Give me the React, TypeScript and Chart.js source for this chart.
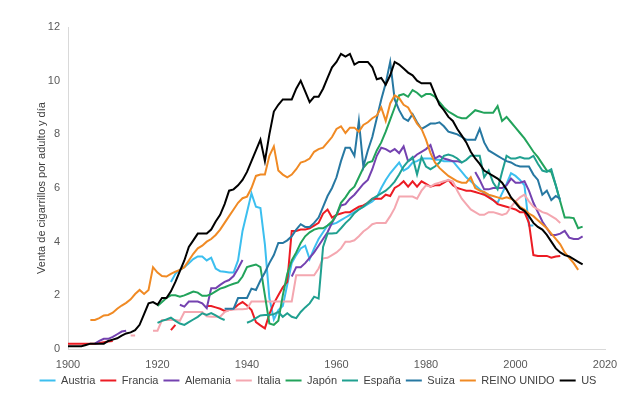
import React, { useEffect, useRef } from "react";
import { Chart, registerables } from "chart.js";

Chart.register(...registerables);

// ---- Data (cigarettes per adult per day) ----
const seriesLabels = ["Austria", "Francia", "Alemania", "Italia", "Japón", "España", "Suiza", "REINO UNIDO", "US"];
const seriesColors = ["#3cbfef", "#ec1c24", "#7442b0", "#f4a7b0", "#22a35b", "#20a090", "#2778a2", "#f08a24", "#000000"];

const xTicksMin = 1900;
const xTicksMax = 2020;
const xTickStep = 20;
const yTicksMin = 0;
const yTicksMax = 12;
const yTickStep = 2;

const austriaStart = 1923;
const austria = [
  2.5, 2.8, 2.95, 3.05, 3.2, 3.35, 3.45, 3.45, 3.3, 3.4, // 1923-1932
  3.0, 2.9, 2.88, 2.85, 2.85, 3.3, 4.4, 5.1, 5.8, 5.3, // 1933-1942
  5.25, 3.9, 1.9, 1.1, 1.45, 1.6, 2.4, 3.2, 3.5, 3.75, // 1943-1952
  3.85, 3.35, 3.75, 4.1, 4.35, 4.6, 4.65, 4.7, 4.8, 4.9, // 1953-1962
  5.0, 5.1, 5.2, 5.3, 5.4, 5.5, 5.65, 6.0, 6.3, 6.55, // 1963-1972
  6.75, 6.95, 6.65, 6.75, 6.95, 7.0, 7.1, 7.1, 7.1, 7.05, // 1973-1982
  7.05, 7.0, 7.0, 7.0, 6.8, 6.6, 6.4, 6.25, 6.1, 5.95, // 1983-1992
  5.8, 5.7, 5.55, 5.45, 5.8, 6.15, 6.55, 6.45, 6.3, 6.1, // 1993-2002
  4.6, 4.6, // 2003-2004
];

const franciaStart = 1900;
const francia = [
  0.2, 0.2, 0.2, 0.2, 0.2, 0.2, 0.2, 0.22, 0.25, 0.28, 0.3, // 1900-1910
  null, null, null, null, null, null, null, null, null, null, null, null, // 1911-1922
  0.7, 0.9, // 1923-1924
  null, null, null, null, null, null, // 1925-1930
  1.6, 1.6, 1.55, 1.5, 1.42, 1.45, 1.5, 1.65, 1.75, 1.62, // 1931-1940
  1.45, 1.0, 0.88, 0.77, 1.3, 1.7, 2.0, 2.3, 2.5, 4.4, // 1941-1950
  4.4, 4.45, 4.45, 4.5, 4.6, 4.7, 5.05, 5.2, 4.9, 5.0, // 1951-1960
  5.05, 5.1, 5.1, 5.2, 5.3, 5.35, 5.45, 5.6, 5.6, 5.6, // 1961-1970
  5.75, 5.7, 6.0, 6.1, 6.25, 6.05, 6.25, 6.05, 6.25, 6.15, // 1971-1980
  6.05, 6.1, 6.1, 6.2, 6.3, 6.1, 6.0, 5.95, 5.9, 5.9, // 1981-1990
  5.85, 5.8, 5.75, 5.65, 5.55, 5.4, 5.35, 5.3, 5.25, 5.2, // 1991-2000
  5.1, 5.1, 4.7, 3.5, 3.47, 3.47, 3.47, 3.4, 3.45, 3.47, // 2001-2010
];

const alemaniaStart = 1906;
const alemania = [
  0.2, 0.3, 0.38, 0.38, 0.45, 0.55, 0.65, 0.68, // 1906-1913
  null, null, null, null, null, null, null, null, null, null, null, // 1914-1924
  1.65, 1.58, 1.77, 1.77, 1.77, 1.7, 1.52, 2.26, 2.26, 2.39, // 1925-1934
  2.5, 2.57, 2.72, 3.0, 3.32, // 1935-1939
  null, null, null, null, null, null, null, null, null, null, // 1940-1949
  2.7, 3.05, 3.05, 3.2, 3.4, 3.6, 3.85, 4.1, 4.35, 4.7, // 1950-1959
  5.0, 5.35, 5.4, 5.6, 5.75, 5.95, 6.15, 6.3, 6.7, 7.2, // 1960-1969
  7.5, 7.45, 7.35, 7.45, 7.3, 7.55, 7.0, 7.1, 7.25, 7.35, // 1970-1979
  7.45, 7.6, 7.1, 7.2, 7.1, 7.05, 7.0, 7.0, 6.95, null, // 1980-1989
  null, 6.6, 6.3, 5.95, 5.95, 6.0, 6.0, 6.0, 6.1, 6.35, // 1990-1999
  6.2, 6.2, 6.25, 5.9, 5.45, 5.1, 4.75, 4.5, 4.25, 4.25, // 2000-2009
  4.3, 4.4, 4.15, 4.1, 4.1, 4.2, // 2010-2015
];

const italiaStart = 1914;
const italia = [
  0.5, 0.5, null, null, null, 0.68, 0.68, 1.08, 1.08, 1.08, // 1914-1923
  1.08, 1.05, 1.38, 1.38, 1.38, 1.38, 1.38, 1.22, 1.2, 1.2, // 1924-1933
  1.2, 1.38, 1.45, 1.47, 1.48, 1.48, 1.5, 1.77, 1.77, 1.77, // 1934-1943
  1.77, 1.77, 1.77, 1.77, 1.77, 1.77, 1.77, 2.75, 2.75, 2.75, // 1944-1953
  2.75, 2.75, 3.0, 3.38, 3.4, 3.5, 3.6, 3.75, 4.0, 4.0, // 1954-1963
  4.05, 4.2, 4.38, 4.5, 4.65, 4.7, 4.7, 4.7, 4.95, 5.25, // 1964-1973
  5.68, 5.68, 5.68, 5.68, 5.6, 5.9, 6.1, 6.05, 6.15, 6.2, // 1974-1983
  6.25, 6.3, 6.25, 5.9, 5.6, 5.4, 5.2, 5.1, 5.0, 5.0, // 1984-1993
  5.1, 5.1, 5.05, 5.0, 5.05, 5.3, 5.5, 5.65, 5.75, 5.5, // 1994-2003
  5.3, 5.2, 5.1, 5.05, 4.95, 4.85, 4.7, // 2004-2010
];

const japonStart = 1920;
const japon = [
  1.6, 1.75, 1.9, 2.0, 2.0, 1.95, 2.0, 2.07, 2.14, 2.1, // 1920-1929
  1.98, 1.98, 2.05, 2.15, 2.25, 2.3, 2.37, 2.43, 2.48, 2.7, // 1930-1939
  3.05, 3.1, 3.15, 3.05, 2.0, 0.95, 0.9, 1.05, 2.0, 2.8, // 1940-1949
  3.3, 3.6, 3.95, 4.2, 4.35, 4.45, 4.5, 4.5, 4.6, 4.75, // 1950-1959
  5.0, 5.45, 5.65, 5.9, 6.05, 6.4, 6.75, 6.95, 7.0, 7.4, // 1960-1969
  7.7, 8.1, 8.55, 9.0, 9.45, 9.5, 9.4, 9.65, 9.55, 9.4, // 1970-1979
  9.5, 9.5, 9.4, 9.2, 9.0, 8.85, 8.75, 8.65, 8.6, 8.6, // 1980-1989
  8.75, 8.9, 8.85, 8.8, 8.8, 8.8, 9.05, 8.5, 8.65, 8.45, // 1990-1999
  8.25, 8.05, 7.85, 7.6, 7.35, 7.15, 6.9, 6.65, 6.6, 6.1, // 2000-2009
  5.5, 4.9, 4.9, 4.88, 4.5, 4.56, // 2010-2015
];

const espanaStart = 1920;
const espana = [
  0.97, 1.05, 1.1, 1.17, 1.05, 0.95, 0.9, 1.0, 1.1, 1.2, // 1920-1929
  1.33, 1.27, 1.34, 1.25, 1.15, 1.08, null, null, null, null, // 1930-1939
  0.98, 1.05, 1.15, 1.25, 1.27, 1.27, 1.3, 1.38, 1.2, 1.33, // 1940-1949
  1.2, 1.15, 1.38, 1.55, 1.7, 1.95, 1.88, 3.8, 4.3, 4.3, // 1950-1959
  4.32, 4.5, 4.69, 4.85, 5.06, 5.2, 5.3, 5.45, 5.6, 5.7, // 1960-1969
  5.8, 5.9, 6.05, 6.24, 6.5, 6.8, 7.0, 7.15, 6.5, 7.15, // 1970-1979
  6.8, 6.7, 6.8, 6.95, 7.2, 7.25, 7.2, 7.1, 6.95, 7.05, // 1980-1989
  7.2, 7.2, 7.2, 6.4, 6.65, 6.2, 5.95, 6.6, 7.2, 7.1, // 1990-1999
  7.1, 7.15, 7.1, 7.1, 7.2, 6.9, 6.65, 6.6, 6.7, 6.1, // 2000-2009
  5.5, // 2010
];

const suizaStart = 1935;
const suiza = [
  1.5, 1.5, 1.5, 1.9, 1.9, 1.9, 2.25, 2.2, 2.55, 2.85, // 1935-1944
  3.2, 3.5, 3.95, 3.95, 4.05, 4.2, 4.45, 4.65, 4.55, 4.55, // 1945-1954
  4.7, 4.9, 5.3, 5.7, 6.0, 6.4, 7.0, 7.5, 7.5, 7.2, // 1955-1964
  8.5, 6.8, 7.4, 7.9, 8.6, 9.3, 9.9, 10.7, 9.3, 8.9, // 1965-1974
  8.6, 8.5, 8.75, 8.45, 8.2, 8.3, 8.4, 8.4, 8.45, 8.3, // 1975-1984
  8.1, 8.05, 8.0, 7.9, 7.8, 7.8, 7.8, 8.2, 7.7, 7.4, // 1985-1994
  7.3, 7.2, 7.1, 7.0, 6.95, 6.85, 6.8, 6.8, 6.8, 6.5, // 1995-2004
  6.3, 5.75, 5.9, 5.55, 5.7, 5.6, // 2005-2010
];

const reinoUnidoStart = 1905;
const reinoUnido = [
  1.08, 1.08, 1.15, 1.25, 1.27, 1.35, 1.5, 1.62, 1.72, 1.85, // 1905-1914
  2.05, 2.2, 2.05, 2.2, 3.05, 2.85, 2.72, 2.7, 2.8, 2.88, // 1915-1924
  2.95, 3.05, 3.3, 3.55, 3.75, 3.85, 4.0, 4.1, 4.25, 4.45, // 1925-1934
  4.7, 4.95, 5.2, 5.45, 5.62, 5.68, 6.0, 6.45, 6.5, 6.5, // 1935-1944
  7.2, 7.55, 6.65, 6.5, 6.4, 6.5, 6.7, 6.95, 7.0, 7.1, // 1945-1954
  7.35, 7.45, 7.5, 7.7, 7.9, 8.2, 8.3, 8.05, 8.25, 8.25, // 1955-1964
  8.1, 8.35, 8.45, 8.6, 8.7, 9.0, 8.5, 9.15, 9.45, 9.35, // 1965-1974
  9.1, 9.0, 8.7, 8.4, 8.2, 7.8, 7.3, 6.95, 6.75, 6.6, // 1975-1984
  6.45, 6.35, 6.25, 6.2, 6.2, 6.4, 6.0, 5.9, 5.85, 5.75, // 1985-1994
  5.7, 5.65, 5.6, 5.65, 5.6, 5.5, 5.3, 5.2, 5.05, 4.95, // 1995-2004
  4.8, 4.65, 4.5, 4.3, 4.1, 3.9, 3.6, 3.4, 3.2, 2.95, // 2005-2014
];

const usStart = 1900;
const us = [
  0.1, 0.1, 0.1, 0.1, 0.15, 0.2, 0.2, 0.2, 0.2, 0.3, // 1900-1909
  0.35, 0.4, 0.5, 0.58, 0.62, 0.7, 0.9, 1.3, 1.7, 1.75, // 1910-1919
  1.65, 1.9, 1.9, 2.15, 2.5, 2.9, 3.3, 3.8, 4.05, 4.3, // 1920-1929
  4.3, 4.3, 4.45, 4.75, 5.0, 5.4, 5.9, 5.95, 6.1, 6.3, // 1930-1939
  6.6, 7.0, 7.4, 7.8, 7.0, 8.0, 8.85, 9.1, 9.3, 9.3, // 1940-1949
  9.3, 9.7, 10.0, 9.6, 9.2, 9.4, 9.4, 9.7, 10.1, 10.5, // 1950-1959
  10.7, 11.0, 10.9, 11.0, 10.6, 10.7, 10.7, 10.7, 10.5, 10.05, // 1960-1969
  10.1, 9.85, 10.2, 10.7, 10.6, 10.45, 10.3, 10.2, 10.0, 9.9, // 1970-1979
  9.9, 9.9, 9.5, 9.1, 8.9, 8.65, 8.5, 8.2, 7.95, 7.7, // 1980-1989
  7.35, 7.1, 6.9, 6.65, 6.55, 6.45, 6.35, 6.2, 5.95, 5.65, // 1990-1999
  5.45, 5.25, 5.15, 4.95, 4.7, 4.55, 4.45, 4.25, 4.0, 3.75, // 2000-2009
  3.6, 3.5, 3.45, 3.35, 3.25, 3.15, // 2010-2015
];

const seriesStarts = [austriaStart, franciaStart, alemaniaStart, italiaStart, japonStart, espanaStart, suizaStart, reinoUnidoStart, usStart];
const seriesValues = [austria, francia, alemania, italia, japon, espana, suiza, reinoUnido, us];

const yAxisTitle = "Venta de cigarrillos por adulto y día";

function toPoints(start: number, values: (number | null)[]) {
  return values.map((v, i) => ({ x: start + i, y: v }));
}

export default function App() {
  const canvasRef = useRef<HTMLCanvasElement | null>(null);

  useEffect(() => {
    document.body.style.margin = "0";
    const canvas = canvasRef.current;
    if (!canvas) return;
    Chart.defaults.font.family = "'Liberation Sans', Arial, sans-serif";
    Chart.defaults.font.size = 11;
    Chart.defaults.color = "#595959";

    const n = seriesLabels.length;
    const datasets = seriesLabels.map((label, i) => ({
      label,
      data: toPoints(seriesStarts[i], seriesValues[i]),
      borderColor: seriesColors[i],
      backgroundColor: seriesColors[i],
      borderWidth: 2,
      pointRadius: 0,
      pointHoverRadius: 0,
      tension: 0,
      spanGaps: false,
      fill: false,
      order: n - i,
    }));

    const chart = new Chart(canvas, {
      type: "line",
      data: { datasets },
      options: {
        animation: false,
        responsive: true,
        maintainAspectRatio: false,
        layout: { padding: { top: 27, right: 35, bottom: 1, left: 31 } },
        plugins: {
          tooltip: { enabled: false },
          legend: {
            position: "bottom",
            align: "center",
            labels: {
              usePointStyle: true,
              pointStyle: "line",
              pointStyleWidth: 16,
              padding: 5,
              color: "#404040",
              font: { size: 11 },
              sort: (a: any, b: any) => a.datasetIndex - b.datasetIndex,
            },
          },
        },
        scales: {
          x: {
            type: "linear",
            min: xTicksMin,
            max: xTicksMax,
            grid: { display: false, drawTicks: false },
            border: { display: true, color: "#d9d9d9", width: 1 },
            ticks: {
              stepSize: xTickStep,
              padding: 9,
              color: "#595959",
              callback: (v: any) => String(v),
            },
            afterFit: (s: any) => {
              s.height = 21;
            },
          },
          y: {
            type: "linear",
            min: yTicksMin,
            max: yTicksMax,
            grid: { display: false, drawTicks: false },
            border: { display: true, color: "#d9d9d9", width: 1 },
            ticks: { stepSize: yTickStep, padding: 8, color: "#595959" },
            title: { display: true, text: yAxisTitle, color: "#404040", font: { size: 11 }, padding: { top: 4, bottom: 4 } },
            afterFit: (s: any) => {
              s.width = 37;
            },
          },
        },
      },
    });
    return () => chart.destroy();
  }, []);

  return (
    <div style={{ position: "relative", width: 640, height: 397, background: "#ffffff" }}>
      <canvas ref={canvasRef} />
    </div>
  );
}
